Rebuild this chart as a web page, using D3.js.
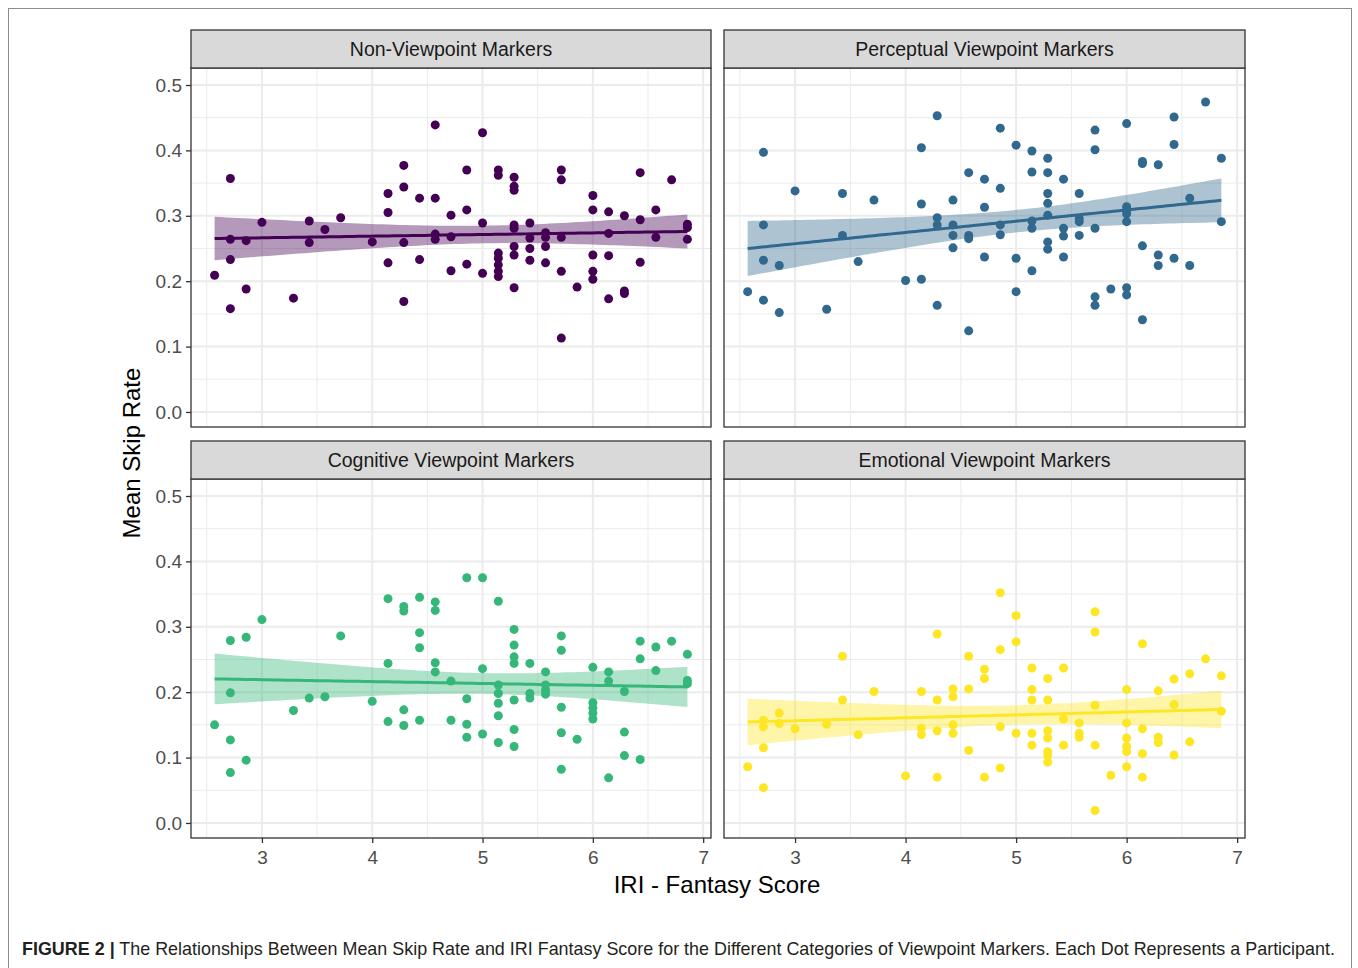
<!DOCTYPE html>
<html><head><meta charset="utf-8">
<script src="https://cdn.jsdelivr.net/npm/d3@7"></script>
<style>
body{margin:0;background:#fff;}
svg{display:block;font-family:"Liberation Sans",Arial,Helvetica,sans-serif;}
</style>
</head><body>
<svg id="c" width="1358" height="968"></svg>
<script>
// ---------------- DATA ----------------
const panelTitles = ["Non-Viewpoint Markers", "Perceptual Viewpoint Markers", "Cognitive Viewpoint Markers", "Emotional Viewpoint Markers"];
const seriesColors = ["#440154", "#31688E", "#35B779", "#FDE725"];
const xTicks = [3, 4, 5, 6, 7];
const xMinor = [2.5, 3.5, 4.5, 5.5, 6.5];
const yTicks = [0, 0.1, 0.2, 0.3, 0.4, 0.5];
const yMinor = [0.05, 0.15, 0.25, 0.35, 0.45];
const xTitle = "IRI - Fantasy Score";
const yTitle = "Mean Skip Rate";
const captionBold = "FIGURE 2 |";
const captionText = " The Relationships Between Mean Skip Rate and IRI Fantasy Score for the Different Categories of Viewpoint Markers. Each Dot Represents a Participant.";

const nonViewpoint = [
[2.571,0.209],
[2.714,0.357],[2.714,0.264],[2.714,0.233],[2.714,0.158],
[2.857,0.262],[2.857,0.188],
[3.0,0.290],
[3.286,0.174],
[3.429,0.292],[3.429,0.259],
[3.571,0.279],
[3.714,0.297],
[4.0,0.260],
[4.143,0.334],[4.143,0.305],[4.143,0.228],
[4.286,0.377],[4.286,0.344],[4.286,0.259],[4.286,0.169],
[4.429,0.327],[4.429,0.233],
[4.571,0.439],[4.571,0.327],[4.571,0.272],[4.571,0.264],
[4.714,0.301],[4.714,0.268],[4.714,0.216],
[4.857,0.370],[4.857,0.309],[4.857,0.226],
[5.0,0.427],[5.0,0.289],[5.0,0.212],
[5.143,0.370],[5.143,0.362],[5.143,0.243],[5.143,0.235],[5.143,0.225],[5.143,0.215],[5.143,0.207],
[5.286,0.359],[5.286,0.345],[5.286,0.339],[5.286,0.286],[5.286,0.281],[5.286,0.253],[5.286,0.240],[5.286,0.190],
[5.429,0.289],[5.429,0.266],[5.429,0.250],[5.429,0.232],
[5.571,0.274],[5.571,0.267],[5.571,0.253],[5.571,0.228],
[5.714,0.370],[5.714,0.355],[5.714,0.267],[5.714,0.215],[5.714,0.113],
[5.857,0.191],
[6.0,0.331],[6.0,0.309],[6.0,0.240],[6.0,0.215],[6.0,0.203],
[6.143,0.306],[6.143,0.273],[6.143,0.239],[6.143,0.173],
[6.286,0.300],[6.286,0.185],[6.286,0.181],
[6.429,0.366],[6.429,0.294],[6.429,0.229],
[6.571,0.309],[6.571,0.267],
[6.714,0.355],
[6.857,0.287],[6.857,0.282],[6.857,0.264]
];

const perceptual = [
[2.571,0.184],
[2.714,0.397],[2.714,0.286],[2.714,0.232],[2.714,0.171],
[2.857,0.224],[2.857,0.152],
[3.0,0.338],
[3.286,0.157],
[3.429,0.334],[3.429,0.270],
[3.571,0.230],
[3.714,0.324],
[4.0,0.201],
[4.143,0.404],[4.143,0.318],[4.143,0.203],
[4.286,0.453],[4.286,0.297],[4.286,0.286],[4.286,0.163],
[4.429,0.324],[4.429,0.286],[4.429,0.270],[4.429,0.251],
[4.571,0.366],[4.571,0.270],[4.571,0.265],[4.571,0.124],
[4.714,0.356],[4.714,0.313],[4.714,0.237],
[4.857,0.434],[4.857,0.342],[4.857,0.286],[4.857,0.271],
[5.0,0.408],[5.0,0.235],[5.0,0.184],
[5.143,0.399],[5.143,0.367],[5.143,0.292],[5.143,0.281],[5.143,0.216],
[5.286,0.388],[5.286,0.366],[5.286,0.334],[5.286,0.319],[5.286,0.301],[5.286,0.260],[5.286,0.249],
[5.429,0.356],[5.429,0.281],[5.429,0.269],[5.429,0.237],
[5.571,0.334],[5.571,0.296],[5.571,0.291],[5.571,0.270],
[5.714,0.431],[5.714,0.401],[5.714,0.281],[5.714,0.176],[5.714,0.163],
[5.857,0.188],
[6.0,0.441],[6.0,0.314],[6.0,0.308],[6.0,0.303],[6.0,0.291],[6.0,0.190],[6.0,0.179],
[6.143,0.383],[6.143,0.380],[6.143,0.254],[6.143,0.141],
[6.286,0.378],[6.286,0.240],[6.286,0.224],
[6.429,0.451],[6.429,0.409],[6.429,0.235],
[6.571,0.327],[6.571,0.224],
[6.714,0.474],
[6.857,0.388],[6.857,0.291]
];

const cognitive = [
[2.571,0.150],
[2.714,0.279],[2.714,0.199],[2.714,0.127],[2.714,0.077],
[2.857,0.284],[2.857,0.096],
[3.0,0.311],
[3.286,0.172],
[3.429,0.191],
[3.571,0.193],
[3.714,0.286],
[4.0,0.186],
[4.143,0.343],[4.143,0.244],[4.143,0.155],
[4.286,0.331],[4.286,0.324],[4.286,0.173],[4.286,0.149],
[4.429,0.345],[4.429,0.291],[4.429,0.268],[4.429,0.157],
[4.571,0.338],[4.571,0.325],[4.571,0.245],[4.571,0.231],
[4.714,0.217],[4.714,0.157],
[4.857,0.375],[4.857,0.190],[4.857,0.151],[4.857,0.131],
[5.0,0.375],[5.0,0.236],[5.0,0.136],
[5.143,0.339],[5.143,0.211],[5.143,0.198],[5.143,0.183],[5.143,0.164],[5.143,0.123],
[5.286,0.296],[5.286,0.272],[5.286,0.254],[5.286,0.244],[5.286,0.188],[5.286,0.143],[5.286,0.117],
[5.429,0.244],[5.429,0.198],[5.429,0.191],
[5.571,0.231],[5.571,0.211],[5.571,0.203],[5.571,0.197],
[5.714,0.286],[5.714,0.264],[5.714,0.177],[5.714,0.138],[5.714,0.082],
[5.857,0.128],
[6.0,0.238],[6.0,0.184],[6.0,0.176],[6.0,0.168],[6.0,0.159],
[6.143,0.231],[6.143,0.217],[6.143,0.069],
[6.286,0.201],[6.286,0.139],[6.286,0.103],
[6.429,0.278],[6.429,0.251],[6.429,0.097],
[6.571,0.269],[6.571,0.233],
[6.714,0.278],
[6.857,0.258],[6.857,0.218],[6.857,0.213]
];

const emotional = [
[2.571,0.086],
[2.714,0.157],[2.714,0.147],[2.714,0.115],[2.714,0.054],
[2.857,0.168],[2.857,0.152],
[3.0,0.144],
[3.286,0.151],
[3.429,0.255],[3.429,0.188],
[3.571,0.135],
[3.714,0.201],
[4.0,0.072],
[4.143,0.201],[4.143,0.145],[4.143,0.135],
[4.286,0.289],[4.286,0.188],[4.286,0.141],[4.286,0.070],
[4.429,0.205],[4.429,0.193],[4.429,0.150],[4.429,0.137],
[4.571,0.255],[4.571,0.205],[4.571,0.111],
[4.714,0.235],[4.714,0.221],[4.714,0.070],
[4.857,0.352],[4.857,0.265],[4.857,0.147],[4.857,0.084],
[5.0,0.317],[5.0,0.277],[5.0,0.137],
[5.143,0.237],[5.143,0.204],[5.143,0.188],[5.143,0.137],[5.143,0.119],
[5.286,0.221],[5.286,0.188],[5.286,0.141],[5.286,0.130],[5.286,0.109],[5.286,0.103],[5.286,0.093],
[5.429,0.237],[5.429,0.159],[5.429,0.119],
[5.571,0.153],[5.571,0.137],[5.571,0.131],
[5.714,0.323],[5.714,0.292],[5.714,0.180],[5.714,0.119],[5.714,0.019],
[5.857,0.073],
[6.0,0.204],[6.0,0.153],[6.0,0.130],[6.0,0.117],[6.0,0.109],[6.0,0.086],
[6.143,0.274],[6.143,0.144],[6.143,0.106],[6.143,0.070],
[6.286,0.202],[6.286,0.131],[6.286,0.123],
[6.429,0.220],[6.429,0.181],[6.429,0.104],
[6.571,0.228],[6.571,0.124],
[6.714,0.251],
[6.857,0.225],[6.857,0.171]
];

const allSeries = [nonViewpoint, perceptual, cognitive, emotional];

// ---------------- LAYOUT ----------------
const svg = d3.select("#c");
const cols = [{x0:191, x1:711}, {x0:724, x1:1245}];
const rows = [{s0:30, p0:68, p1:427}, {s0:441, p0:479, p1:838}];
const xDomain = [2.357, 7.071];
const yDomain = [-0.023, 0.526];

// frame
svg.append("rect").attr("x",8.5).attr("y",8.5).attr("width",1343).attr("height",990)
  .attr("fill","none").attr("stroke","#8c8c8c").attr("stroke-width",1);

function lmFit(data){
  const n = data.length;
  const xbar = d3.mean(data, d=>d[0]), ybar = d3.mean(data, d=>d[1]);
  let sxx=0, sxy=0;
  data.forEach(d=>{ sxx += (d[0]-xbar)**2; sxy += (d[0]-xbar)*(d[1]-ybar); });
  const b = sxy/sxx, a = ybar - b*xbar;
  let sse = 0;
  data.forEach(d=>{ sse += (d[1]-(a+b*d[0]))**2; });
  const df = n-2;
  const s = Math.sqrt(sse/df);
  const t = 1.96 + 2.37/df + 2.8/(df*df);
  const [mn, mx] = d3.extent(data, d=>d[0]);
  const out = [];
  for(let i=0;i<80;i++){
    const x = mn + (mx-mn)*i/79;
    const f = a + b*x;
    const se = s*Math.sqrt(1/n + (x-xbar)**2/sxx);
    out.push({x, f, lo:f-t*se, hi:f+t*se});
  }
  return out;
}

allSeries.forEach((data, i)=>{
  const c = cols[i%2], r = rows[Math.floor(i/2)];
  const x = d3.scaleLinear().domain(xDomain).range([c.x0, c.x1]);
  const y = d3.scaleLinear().domain(yDomain).range([r.p1, r.p0]);
  const g = svg.append("g");
  const col = seriesColors[i];

  g.append("rect").attr("x",c.x0).attr("y",r.p0).attr("width",c.x1-c.x0).attr("height",r.p1-r.p0).attr("fill","#fff");
  // minor grid
  g.selectAll(".mx").data(xMinor).join("line")
    .attr("x1",d=>x(d)).attr("x2",d=>x(d)).attr("y1",r.p0).attr("y2",r.p1)
    .attr("stroke","#EBEBEB").attr("stroke-width",1);
  g.selectAll(".my").data(yMinor).join("line")
    .attr("y1",d=>y(d)).attr("y2",d=>y(d)).attr("x1",c.x0).attr("x2",c.x1)
    .attr("stroke","#EBEBEB").attr("stroke-width",1);
  // major grid
  g.selectAll(".Mx").data(xTicks).join("line")
    .attr("x1",d=>x(d)).attr("x2",d=>x(d)).attr("y1",r.p0).attr("y2",r.p1)
    .attr("stroke","#EBEBEB").attr("stroke-width",2);
  g.selectAll(".My").data(yTicks).join("line")
    .attr("y1",d=>y(d)).attr("y2",d=>y(d)).attr("x1",c.x0).attr("x2",c.x1)
    .attr("stroke","#EBEBEB").attr("stroke-width",2);

  // points
  g.selectAll("circle").data(data).join("circle")
    .attr("cx",d=>x(d[0])).attr("cy",d=>y(d[1])).attr("r",4.5).attr("fill",col);

  // smooth
  const fit = lmFit(data);
  g.append("path").datum(fit)
    .attr("d", d3.area().x(d=>x(d.x)).y0(d=>y(d.lo)).y1(d=>y(d.hi)))
    .attr("fill", col).attr("fill-opacity",0.4);
  g.append("path").datum(fit)
    .attr("d", d3.line().x(d=>x(d.x)).y(d=>y(d.f)))
    .attr("fill","none").attr("stroke",col).attr("stroke-width",3);

  // border
  g.append("rect").attr("x",c.x0).attr("y",r.p0).attr("width",c.x1-c.x0).attr("height",r.p1-r.p0)
    .attr("fill","none").attr("stroke","#333333").attr("stroke-width",1.3);
  // strip
  g.append("rect").attr("x",c.x0).attr("y",r.s0).attr("width",c.x1-c.x0).attr("height",r.p0-r.s0)
    .attr("fill","#D9D9D9").attr("stroke","#333333").attr("stroke-width",1.3);
  g.append("text").attr("x",(c.x0+c.x1)/2).attr("y",(r.s0+r.p0)/2).attr("dy","0.35em")
    .attr("text-anchor","middle").attr("font-size",19.5).attr("fill","#1A1A1A").text(panelTitles[i]);

  // axes
  if(i%2===0){
    const ax = g.append("g").attr("transform",`translate(${c.x0},0)`)
      .call(d3.axisLeft(y).tickValues(yTicks).tickFormat(d3.format(".1f")).tickSize(5).tickPadding(4));
    ax.select(".domain").remove();
    ax.selectAll("line").attr("stroke","#333333").attr("stroke-width",1.3);
    ax.selectAll("text").attr("font-size",19).attr("fill","#4D4D4D").attr("font-family","Liberation Sans, Arial, sans-serif");
  }
  if(i>=2){
    const ax = g.append("g").attr("transform",`translate(0,${r.p1})`)
      .call(d3.axisBottom(x).tickValues(xTicks).tickFormat(d3.format("d")).tickSize(5).tickPadding(8));
    ax.select(".domain").remove();
    ax.selectAll("line").attr("stroke","#333333").attr("stroke-width",1.3);
    ax.selectAll("text").attr("font-size",19).attr("fill","#4D4D4D").attr("font-family","Liberation Sans, Arial, sans-serif");
  }
});

// axis titles
svg.append("text").attr("x",717).attr("y",893).attr("text-anchor","middle")
  .attr("font-size",24).attr("fill","#000").text(xTitle);
svg.append("text").attr("transform","translate(140,453) rotate(-90)").attr("text-anchor","middle")
  .attr("font-size",24).attr("fill","#000").text(yTitle);

// caption
const cap = svg.append("text").attr("font-size",18).attr("fill","#231f20")
  .style("font-family","'Liberation Sans Narrow','Liberation Sans',Arial,sans-serif");
cap.append("tspan").attr("font-weight","bold").text(captionBold);
cap.append("tspan").text(captionText);
const w = cap.node().getComputedTextLength();
cap.attr("transform",`translate(22,955) scale(${1314/w},1)`);
</script>
</body></html>
